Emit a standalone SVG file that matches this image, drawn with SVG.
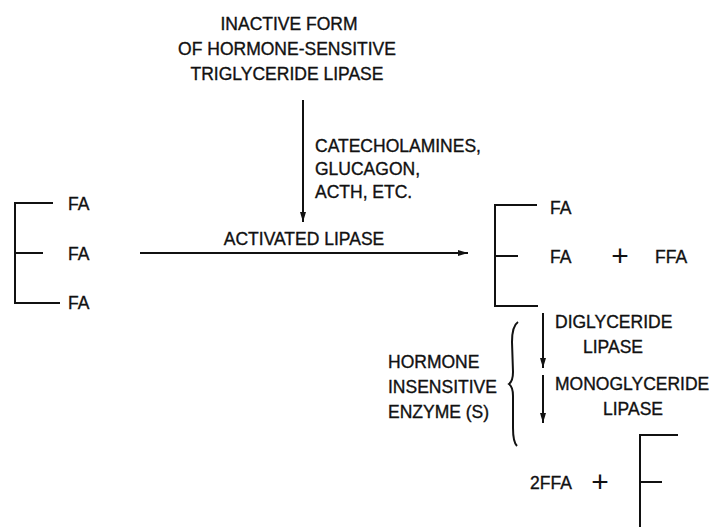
<svg xmlns="http://www.w3.org/2000/svg" width="715" height="527" viewBox="0 0 715 527">
<style>
text{font-family:"Liberation Sans",Arial,sans-serif;font-size:17.5px;fill:#111;stroke:#111;stroke-width:0.35}
.m{text-anchor:middle}
.ln{stroke:#111;stroke-width:2;fill:none}
.pl{font-size:30px;stroke-width:0}
</style>
<defs>
<marker id="ah" viewBox="0 0 10 10" refX="10" refY="5" markerWidth="10" markerHeight="10" markerUnits="userSpaceOnUse" orient="auto">
<path d="M0,2 L10,5 L0,8 Z" fill="#111"/>
</marker>
</defs>
<rect width="715" height="527" fill="#fff"/>
<g id="inactive-lipase">
<text class="m" x="289" y="30">INACTIVE FORM</text>
<text class="m" x="287" y="55">OF HORMONE-SENSITIVE</text>
<text class="m" x="287" y="80">TRIGLYCERIDE LIPASE</text>
</g>
<g id="hormones">
<text x="315" y="152">CATECHOLAMINES,</text>
<text x="315" y="175">GLUCAGON,</text>
<text x="315" y="198">ACTH, ETC.</text>
</g>
<g id="activated-lipase">
<text class="m" x="304" y="245">ACTIVATED LIPASE</text>
</g>
<g id="triglyceride">
<path class="ln" d="M53,203 H15 V303 H60 M15,253 H43"/>
<text x="68" y="210">FA</text>
<text x="68" y="260">FA</text>
<text x="68" y="309">FA</text>
</g>
<g id="diglyceride">
<path class="ln" d="M537,205 H495 V306 H538 M495,256 H518"/>
<text x="550" y="214">FA</text>
<text x="550" y="263">FA</text>
<text class="pl m" x="620" y="266">+</text>
<text x="655" y="263">FFA</text>
</g>
<g id="hormone-insensitive">
<text x="388" y="368">HORMONE</text>
<text x="388" y="393">INSENSITIVE</text>
<text x="388" y="418">ENZYME (S)</text>
<path class="ln" d="M518,322 Q512,326 512,342 L513,372 Q513,381 509,384 Q513,387 513,396 L513,428 Q513,442 517,446"/>
</g>
<g id="enzymes">
<text x="555" y="328">DIGLYCERIDE</text>
<text x="583" y="353">LIPASE</text>
<text x="555" y="390">MONOGLYCERIDE</text>
<text x="603" y="415">LIPASE</text>
</g>
<g id="glycerol">
<text x="530" y="489">2FFA</text>
<text class="pl m" x="600" y="492">+</text>
<path class="ln" d="M678,435 H640 V527 M640,482 H662"/>
</g>
<g id="connectors">
<path class="ln" d="M303,100 V222" marker-end="url(#ah)"/>
<path class="ln" d="M140,253 H468" marker-end="url(#ah)"/>
<path class="ln" d="M543,313 V368" marker-end="url(#ah)"/>
<path class="ln" d="M543,375 V423" marker-end="url(#ah)"/>
</g>
</svg>
